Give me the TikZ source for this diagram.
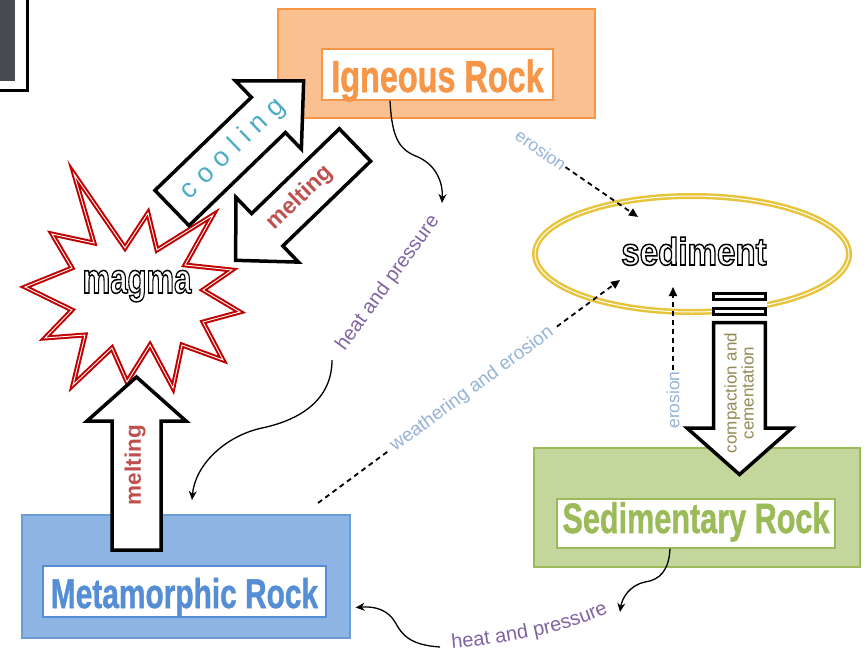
\documentclass[tikz,border=0pt]{standalone}
\usepackage{fontspec}
\setmainfont{Liberation Sans}
\newfontfamily\heavyfont{Liberation Sans}[FakeBold=1.2]
\usepackage{graphicx}
\usetikzlibrary{positioning,calc,arrows.meta,decorations.text}

\definecolor{ignfill}{HTML}{FAC090}
\definecolor{igndraw}{HTML}{F79646}
\definecolor{metfill}{HTML}{8DB4E2}
\definecolor{metdraw}{HTML}{6C9BD6}
\definecolor{mettext}{HTML}{558ED5}
\definecolor{sedfill}{HTML}{C3D69B}
\definecolor{seddraw}{HTML}{9BBB59}
\definecolor{goldring}{HTML}{E8C43C}
\definecolor{magmared}{HTML}{C00000}
\definecolor{coolblue}{HTML}{4BACC6}
\definecolor{meltred}{HTML}{C0504D}
\definecolor{heatpurple}{HTML}{8064A2}
\definecolor{erodeblue}{HTML}{95B3D7}
\definecolor{compolive}{HTML}{948A54}
\definecolor{photogray}{HTML}{4A4B52}

\newcommand{\narrowtext}[1]{\scalebox{0.72}[1]{#1}}
% white letters with a black stroke
\newcommand{\hollowtext}[1]{\textcolor{white}{\special{pdf:literal 2 Tr 1.5 w 0 G}#1\special{pdf:literal 0 Tr}}}
% block arrow along local x: length, shaft half width, head half width, head length
\newcommand{\blockarrow}[4]{%
  \draw[blockline] (0,-#2) -- ({#1-#4},-#2) -- ({#1-#4},-#3) -- (#1,0)
    -- ({#1-#4},#3) -- ({#1-#4},#2) -- (0,#2) -- cycle;}

\tikzset{
  outerbox/.style 2 args={fill=#1, draw=#2, line width=1.3pt, inner sep=0pt},
  labelbox/.style={fill=white, draw=#1, line width=1.3pt, inner sep=0pt, text=#1, font=\heavyfont\bfseries},
  blockline/.style={draw=black, fill=white, line width=3.5pt, line join=miter},
  curvearrow/.style={-{Stealth[length=9pt,width=8pt]}, line width=1.3pt},
  dasharrow/.style={-{Triangle[length=9pt,width=8pt]}, line width=1.8pt, dash pattern=on 5pt off 4pt},
  smalltext/.style={text=#1, font=\fontsize{17.5}{17.5}\selectfont, inner sep=1pt},
}

\begin{document}
\begin{tikzpicture}[x=1pt, y=-1pt]
    \useasboundingbox (0,0) rectangle (868,653);
    % corner of a photo
    \draw[fill=white, line width=3pt] (-3,-3) rectangle (27.5,90.5);
    \fill[photogray] (0,0) rectangle (15,81);

    % rock boxes
    \node[outerbox={ignfill}{igndraw}, minimum width=317pt, minimum height=109pt] (igneous) at (436.5,63.5) {};
    \node[labelbox=igndraw, minimum width=231pt, text height=43pt, text depth=8pt] (ignlabel) at (437.5,74.5) {\fontsize{45}{45}\selectfont\narrowtext{Igneous Rock}};
    \node[outerbox={metfill}{metdraw}, minimum width=328pt, minimum height=123pt] (metamorphic) at (186,576.5) {};
    \node[labelbox=mettext, minimum width=283pt, text height=42pt, text depth=9pt] (metlabel) at (184.5,591.5) {\fontsize{41.5}{41.5}\selectfont\narrowtext{Metamorphic Rock}};
    \node[outerbox={sedfill}{seddraw}, minimum width=326pt, minimum height=119pt] (sedimentary) at (697,507.5) {};
    \node[labelbox=seddraw, minimum width=278pt, text height=34pt, text depth=15pt] (sedlabel) at (696,523.5) {\fontsize{42.5}{42.5}\selectfont\narrowtext{Sedimentary Rock}};

    % sediment ring
    \draw[goldring, double=white, double distance=1pt, line width=2.5pt] (692,254) ellipse [x radius=157, y radius=58];
    \node[anchor=base, font=\bfseries\fontsize{38.5}{38.5}\selectfont] (sediment) at (694,265) {\hollowtext{\scalebox{0.86}[1]{sediment}}};

    % magma burst
    \draw[magmared, double=white, double distance=0.9pt, line width=2pt, line join=miter]
      (74,174) -- (125,248) -- (148,213) -- (157,250) -- (213,215) -- (185,265)
      -- (232,270) -- (203,290) -- (240,312) -- (203,322) -- (223,360) -- (182,345)
      -- (173,388) -- (150,345) -- (127,382) -- (112,348) -- (73,385) -- (85,335)
      -- (45,338) -- (72,310) -- (25,287) -- (72,268) -- (52,234) -- (94,243) -- cycle;
    \node[anchor=base, font=\bfseries\fontsize{42}{42}\selectfont] (magma) at (137,293) {\hollowtext{\scalebox{0.74}[1]{magma}}};

    % block arrows
    \begin{scope}[shift={(172,208)}, rotate=44]
      \blockarrow{183}{24.5}{47.5}{49}
    \end{scope}
    \begin{scope}[shift={(355,145)}, rotate=224]
      \blockarrow{166}{22.5}{45}{44}
    \end{scope}
    \begin{scope}[shift={(136.5,550)}, rotate=90]
      \blockarrow{173}{24.5}{49.5}{44}
    \end{scope}
    \fill[white] (712,292) rectangle (767,322);
    \draw[blockline, line width=3pt] (713.5,293.5) rectangle (765.5,299.5);
    \draw[blockline, line width=3pt] (713.5,308.5) rectangle (765.5,314.5);
    \draw[blockline] (713.7,322.5) -- (713.7,428) -- (687,428) -- (739.5,474.5)
      -- (792,428) -- (765.3,428) -- (765.3,322.5) -- cycle;

    \node[rotate=44, text=coolblue, font=\fontsize{27}{27}\selectfont] (cooltxt) at (233,149)
      {c\kern8pt o\kern8pt o\kern8pt l\kern8pt i\kern8pt n\kern8pt g};
    \node[rotate=44, text=meltred, font=\bfseries\fontsize{23}{23}\selectfont] (melttop) at (300,198) {melting};
    \node[rotate=90, text=meltred, font=\bfseries\fontsize{22.5}{22.5}\selectfont] (meltlow) at (135,465) {melting};
    \node[rotate=90, align=center, text=compolive, font=\fontsize{17}{15}\selectfont] (comptxt) at (739,393) {compaction and\\cementation};

    % heat and pressure
    \coordinate (hpstart) at ($(ignlabel.south)+(-47.5,0)$);
    \coordinate (hpmid) at (442,203);
    \node[rotate=54, text=heatpurple, font=\fontsize{20}{20}\selectfont] (heattxt) at (388,283) {heat and pressure};
    \coordinate (hpresume) at (332,360);
    \coordinate (hpend) at (192,500);
    \draw[curvearrow] (hpstart) .. controls (392,140) and (400,150) .. (418,157) .. controls (438,166) and (443,185) .. (hpmid);
    \draw[curvearrow] (hpresume) .. controls (332,400) and (300,420) .. (262,428) .. controls (225,436) and (195,465) .. (hpend);

    \coordinate (sedout) at ($(sedlabel.south)+(-26,0)$);
    \coordinate (lowmid) at (620,612);
    \coordinate (lowresume) at (440,647);
    \coordinate (metin) at ($(metamorphic.east)+(5,31)$);
    \draw[curvearrow] (sedout) .. controls (669,570) and (660,580) .. (645,582) .. controls (630,585) and (622,598) .. (lowmid);
    \draw[curvearrow] (lowresume) .. controls (410,645) and (402,635) .. (395,622) .. controls (388,610) and (375,606) .. (metin);
    \path[decorate, decoration={text along path, text align=center, text color=heatpurple,
      text={|\fontsize{20}{20}\selectfont|heat and pressure}}]
      (448,649) .. controls (500,644) and (568,634) .. (612,611);

    % erosion
    \node[rotate=-35, smalltext=erodeblue] (erotop) at (541,150) {erosion};
    \coordinate (erotip) at (638,217);
    \draw[dasharrow] (erotop.east) -- (erotip);
    \node[rotate=90, smalltext=erodeblue] (eroside) at (673,400) {erosion};
    \coordinate (erotip2) at (673,287);
    \draw[dasharrow] (eroside.east) -- (erotip2);
    \coordinate (weathstart) at (318,503);
    \coordinate (weathtip) at (620,280);
    \draw[dasharrow] (weathstart) -- node[pos=0.51, sloped, fill=white, text=erodeblue, font=\fontsize{19}{19}\selectfont, inner sep=3pt] (weathtxt) {weathering and erosion} (weathtip);
\end{tikzpicture}
\end{document}
